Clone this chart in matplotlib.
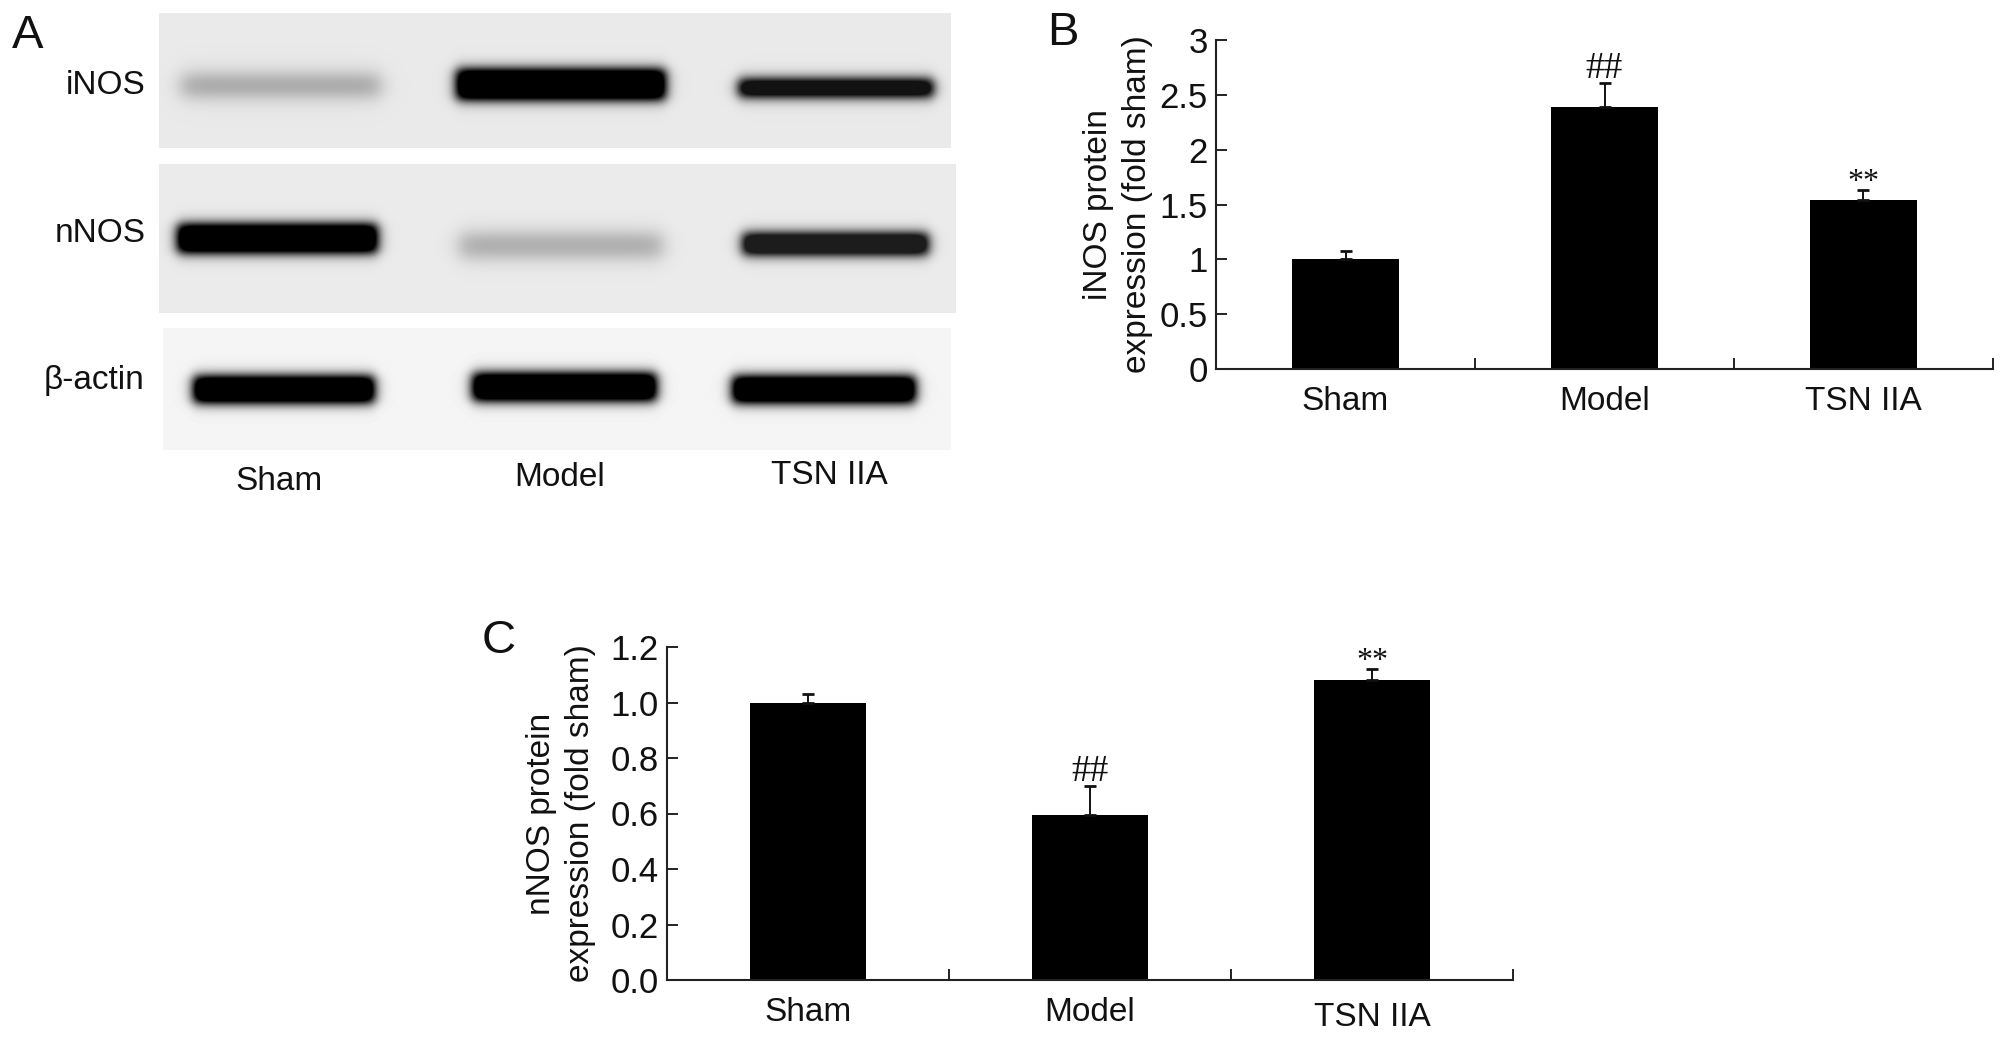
import matplotlib
matplotlib.use("Agg")
import matplotlib.pyplot as plt
import numpy as np

plt.rcParams['font.family'] = ['Liberation Sans', 'DejaVu Sans']

groups = ['Sham', 'Model', 'TSN IIA']

inos_values = [1.0, 2.39, 1.54]
inos_errors = [0.08, 0.22, 0.09]
inos_marks = ['', '##', '**']
inos_ticks = [0, 0.5, 1, 1.5, 2, 2.5, 3]
inos_ticklabels = ['0', '0.5', '1', '1.5', '2', '2.5', '3']

nnos_values = [1.0, 0.595, 1.08]
nnos_errors = [0.03, 0.105, 0.04]
nnos_marks = ['', '##', '**']
nnos_ticks = [0, 0.2, 0.4, 0.6, 0.8, 1.0, 1.2]
nnos_ticklabels = ['0.0', '0.2', '0.4', '0.6', '0.8', '1.0', '1.2']

# blot band darkness, one value per group
blot_names = ['iNOS', 'nNOS', '\u03b2-actin']
blot_darkness = [[0.33, 1.0, 0.92], [1.0, 0.3, 0.88], [1.0, 1.0, 1.0]]

W, H = 2008, 1037
fig = plt.figure(figsize=(W / 100, H / 100), dpi=100, facecolor='white')


def px_axes(left, top, right, bottom):
    return fig.add_axes([left / W, 1 - bottom / H, (right - left) / W, (bottom - top) / H])


# panel A, drawn in pixel coordinates
ax_a = px_axes(0, 0, W, H)
ax_a.set_xlim(0, W)
ax_a.set_ylim(H, 0)
ax_a.axis('off')

panels = [(159, 951, 13, 148), (159, 956, 164, 313), (163, 951, 328, 450)]
band_x = [[(181, 380), (456, 665), (738, 933)],
          [(177, 377), (459, 662), (742, 928)],
          [(193, 374), (472, 656), (732, 915)]]
band_y = [[(75, 95), (69, 99), (79, 96)],
          [(224, 252), (234, 256), (233, 254)],
          [(376, 402), (373, 400), (376, 402)]]
panel_bg = [0.915, 0.92, 0.96]


def soft(v, a, b, s):
    return 0.5 * (np.tanh((v - a) / s) - np.tanh((v - b) / s))


for row, (x0, x1, y0, y1) in enumerate(panels):
    xs = np.arange(x0, x1)
    ys = np.arange(y0, y1)
    xx, yy = np.meshgrid(xs, ys)
    img = np.full(xx.shape, panel_bg[row])
    for col in range(3):
        d = blot_darkness[row][col]
        # faint bands are blurrier than the saturated ones
        s = 7 if d > 0.8 else 11
        band = soft(xx, *band_x[row][col], s) * soft(yy, *band_y[row][col], s)
        band = np.clip(band * (1.6 if d > 0.8 else 1.1), 0, 1)
        img = img * (1 - band * d)
    ax_a.imshow(img, cmap='gray', vmin=0, vmax=1, extent=(x0, x1, y1, y0),
                interpolation='bilinear', aspect='auto')
ax_a.set_xlim(0, W)
ax_a.set_ylim(H, 0)

label_size = 24
for name, y, right in zip(blot_names, [85, 233, 380], [146, 146, 144]):
    ax_a.text(right, y, name, ha='right', va='center', fontsize=label_size, color='#111111')
for name, x, y in zip(groups, [279, 560, 829], [482, 478, 475]):
    ax_a.text(x, y, name, ha='center', va='center', fontsize=label_size, color='#111111')

ax_a.text(12, 36, 'A', ha='left', va='center', fontsize=34, color='#111111')
ax_a.text(1047, 33, 'B', ha='left', va='center', fontsize=34, color='#111111')
ax_a.text(482, 641, 'C', ha='left', va='center', fontsize=34, color='#111111')

mark_size = {'##': 27, '**': 23}
mark_gap = {'##': 10, '**': 5.5}


def bar_panel(ax, values, errors, marks, ticks, ticklabels, ymax, ylabel, label_x):
    x = np.arange(len(values))
    ax.bar(x, values, width=0.41, color='black')
    ax.errorbar(x, values, yerr=[np.zeros(len(errors)), errors], fmt='none', ecolor='#111111',
                elinewidth=1.4, capsize=4.5, capthick=2)
    ax.set_xlim(-0.5, 2.5)
    ax.set_ylim(0, ymax)
    ax.set_yticks(ticks)
    ax.set_yticklabels(ticklabels)
    ax.set_xticks(x)
    ax.set_xticklabels(groups)
    ax.set_xticks([0.5, 1.5, 2.5], minor=True)
    ax.tick_params(axis='x', which='major', length=0, pad=12, labelsize=label_size, labelcolor='#111111')
    ax.tick_params(axis='x', which='minor', direction='in', length=8, width=1.4, color='#222222')
    ax.tick_params(axis='y', direction='in', length=8, width=1.4, color='#222222', pad=6,
                   labelsize=label_size + 1, labelcolor='#111111')
    for side in ['top', 'right']:
        ax.spines[side].set_visible(False)
    for side in ['left', 'bottom']:
        ax.spines[side].set_linewidth(1.5)
        ax.spines[side].set_color('#222222')
    ax.set_ylabel(ylabel, fontsize=24, linespacing=1.35, color='#111111', va='center')
    ax.yaxis.set_label_coords(label_x, 0.5)
    for i, mark in enumerate(marks):
        if mark:
            ax.annotate(mark, (x[i], values[i] + errors[i]), xytext=(0, mark_gap[mark]),
                        textcoords='offset points', ha='center', va='center',
                        family='Liberation Serif', fontsize=mark_size[mark], color='#111111')


ax_b = px_axes(1216, 40, 1993, 369)
bar_panel(ax_b, inos_values, inos_errors, inos_marks, inos_ticks, inos_ticklabels, 3,
          'iNOS protein\nexpression (fold sham)', -98 / 777)

ax_c = px_axes(667, 647, 1513, 980)
bar_panel(ax_c, nnos_values, nnos_errors, nnos_marks, nnos_ticks, nnos_ticklabels, 1.2,
          'nNOS protein\nexpression (fold sham)', -106 / 846)
ax_c.xaxis.get_major_ticks()[2].set_pad(16)

fig.savefig('out.png', dpi=100, facecolor='white')
